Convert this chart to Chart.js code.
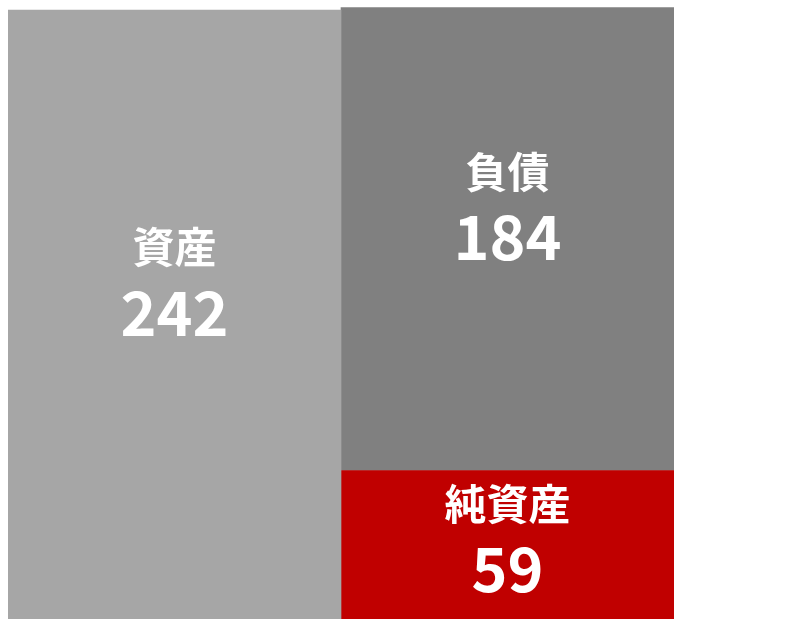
<!DOCTYPE html>
<html>
<head>
<meta charset="utf-8">
<script src="https://cdn.jsdelivr.net/npm/chart.js@4/dist/chart.umd.min.js"></script>
<style>
  html, body { margin: 0; padding: 0; background: #fff; }
  #wrap { width: 787px; height: 619px; }
</style>
</head>
<body>
<div id="wrap"><canvas id="myChart"></canvas></div>
<script>
// 左: 資産, 右: 純資産 + 負債
const categories = ['資産', '負債・純資産'];
const assets = [242, null];
const netAssets = [null, 59];
const liabilities = [null, 184];

// 数値の表示位置ずれ (棒の中心から, px)
const numberShift = { '資産': -2, '純資産': 24, '負債': -2 };

const labelPlugin = {
    id: 'barLabels',
    afterDatasetsDraw(chart) {
        const ctx = chart.ctx;
        ctx.save();
        ctx.fillStyle = '#FFFFFF';
        ctx.textAlign = 'center';
        ctx.textBaseline = 'middle';
        chart.data.datasets.forEach((ds, i) => {
            const meta = chart.getDatasetMeta(i);
            meta.data.forEach((bar, j) => {
                const v = ds.data[j];
                if (v == null) return;
                const p = bar.getProps(['x', 'y', 'base'], true);
                const cy = (p.y + p.base) / 2 + (numberShift[ds.label] || 0);
                ctx.font = 'bold 42px "Noto Sans CJK JP"';
                ctx.fillText(ds.label, p.x, cy - 65);
                ctx.font = 'bold 61px "Noto Sans CJK JP"';
                ctx.fillText(String(v), p.x, cy);
            });
        });
        ctx.restore();
    }
};

const ctx = document.getElementById('myChart').getContext('2d');
const myChart = new Chart(ctx, {
    type: 'bar',
    data: {
        labels: categories,
        datasets: [
            { label: '資産', data: assets, backgroundColor: '#A6A6A6' },
            { label: '純資産', data: netAssets, backgroundColor: '#C00000' },
            { label: '負債', data: liabilities, backgroundColor: '#808080' }
        ]
    },
    options: {
        responsive: true,
        maintainAspectRatio: false,
        animation: false,
        layout: { padding: { left: 8, right: 113, top: 0, bottom: 0 } },
        datasets: { bar: { barPercentage: 1, categoryPercentage: 1, borderWidth: 0 } },
        scales: {
            x: { stacked: true, display: false },
            y: { stacked: true, display: false, min: 0, max: 246 }
        },
        plugins: { legend: { display: false }, tooltip: { enabled: false } }
    },
    plugins: [labelPlugin]
});
</script>
</body>
</html>
